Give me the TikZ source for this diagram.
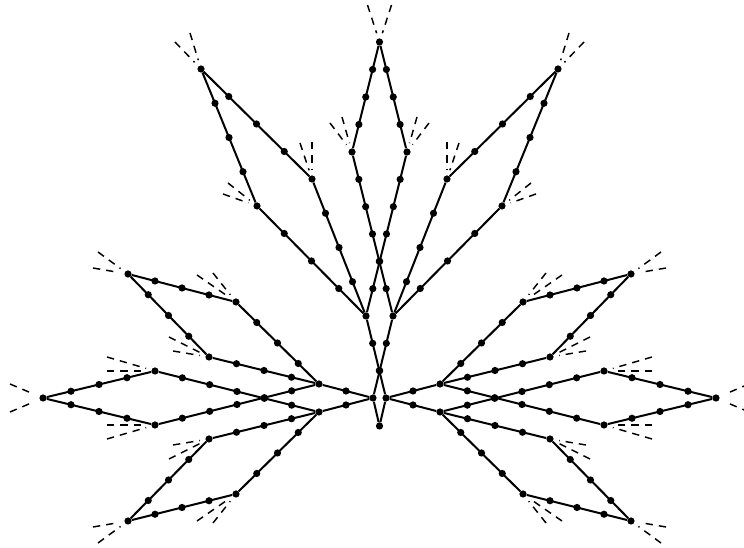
\documentclass[tikz,border=0pt]{standalone}
\usepackage{tikz}
\usetikzlibrary{calc}

\begin{document}
\begin{tikzpicture}[
    x=0.75pt, y=-0.75pt,
    vertex/.style={circle, fill=black, inner sep=0pt, minimum size=5.4pt},
    edge_line/.style={line width=1.5pt},
    stub_line/.style={line width=1.1pt, dash pattern=on 5.5pt off 4.5pt, shorten >=4pt}
]
\useasboundingbox (0,0) rectangle (744,548);

\node[vertex] (root) at (379.5,426) {};
\node[vertex] (top) at (379.5,42) {};
\foreach \side/\sign in {l/1, r/-1} {
  \foreach \v/\x/\y in {a/373/398, p1/319/384, p2/319/412, t1/366/316, tc/352/152,
      u1/257/206, u2/312/179, ua/201/69, q1/236/302, q2/209/357, qa/128/274,
      q3/209/439, q4/236/494, qb/128/521, du/155/371, dl/155/425, dt/43/398}
    \node[vertex] (\side\v) at ({379.5+\sign*(\x-379.5)},\y) {};
}

\draw[edge_line] (root) -- (la);
\draw[edge_line] (root) -- (ra);
\foreach \side/\opp in {l/r, r/l} {
  \foreach \a/\b/\n in {\side a/\side p1/2, \side a/\side p2/2, \side t1/\opp a/3,
      top/\side tc/4, \side tc/\opp t1/6,
      \side t1/\side u1/4, \side t1/\side u2/4, \side ua/\side u1/4, \side ua/\side u2/4,
      \side p1/\side q1/4, \side p1/\side q2/4, \side qa/\side q1/4, \side qa/\side q2/4,
      \side p2/\side q3/4, \side p2/\side q4/4, \side qb/\side q3/4, \side qb/\side q4/4,
      \side p1/\side dl/6, \side p2/\side du/6, \side dt/\side du/4, \side dt/\side dl/4} {
    \draw[edge_line] (\a) -- (\b);
    \pgfmathtruncatemacro\last{\n-1}
    \foreach \k in {1,...,\last} {
      \pgfmathsetmacro\frac{\k/\n}
      \fill ($(\a)!\frac!(\b)$) circle (2.7pt);
    }
  }
}

\foreach \side/\sign in {l/1, r/-1} {
  \foreach \v/\dx/\dy in {top/-12/-37, \side tc/-22/-29, \side tc/-10/-35,
      \side ua/-26/-27, \side ua/-11/-36, \side u1/-29/-23, \side u1/-34/-12,
      \side u2/-12/-36, \side u2/0/-37, \side q1/-39/-27, \side q1/-23/-29,
      \side q2/-40/-20, \side q2/-36/-6, \side qa/-30/-22, \side qa/-35/-6,
      \side dt/-33/-14, \side dt/-33/14, \side du/-48/-14, \side du/-48/0,
      \side dl/-48/14, \side dl/-48/0, \side q3/-40/20, \side q3/-36/6,
      \side q4/-39/27, \side q4/-23/29, \side qb/-30/22, \side qb/-35/6}
    \draw[stub_line] ($(\v)+({\sign*\dx},\dy)$) -- (\v);
}
\end{tikzpicture}
\end{document}
